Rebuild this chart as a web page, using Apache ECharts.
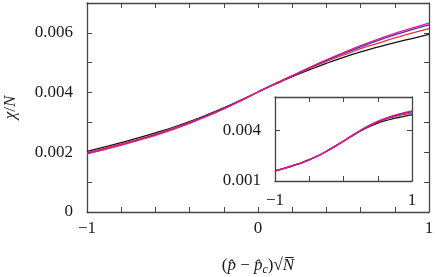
<!DOCTYPE html>
<html><head><meta charset="utf-8">
<script src="https://cdn.jsdelivr.net/npm/echarts@6/dist/echarts.min.js"></script>
<style>html,body{margin:0;padding:0;background:#fff}#c{width:435px;height:277px}</style>
</head><body><div id="c"></div>
<script>
var xs = [-1.0,-0.9,-0.8,-0.7,-0.6,-0.5,-0.4,-0.3,-0.2,-0.1,0.0,0.1,0.2,0.3,0.4,0.5,0.6,0.7,0.8,0.9,1.0];
// main panel
var blackMain   = [0.00203,0.00217,0.00232,0.00248,0.00265,0.00283,0.00303,0.00325,0.00349,0.00375,0.00402,0.00428,0.00453,0.00476,0.00498,0.00518,0.00536,0.00552,0.00567,0.00581,0.00595];
var redMain     = [0.00199,0.00213,0.00228,0.00244,0.00261,0.00280,0.00300,0.00323,0.00347,0.00374,0.00402,0.00429,0.00455,0.00480,0.00504,0.00526,0.00547,0.00565,0.00583,0.00599,0.00614];
var blueMain    = [0.00196,0.00210,0.00225,0.00241,0.00258,0.00277,0.00298,0.00321,0.00346,0.00373,0.00402,0.00430,0.00456,0.00483,0.00508,0.00531,0.00553,0.00574,0.00593,0.00611,0.00627];
var magentaMain = [0.00195,0.00209,0.00224,0.00240,0.00257,0.00276,0.00297,0.00320,0.00345,0.00373,0.00402,0.00430,0.00457,0.00484,0.00510,0.00534,0.00557,0.00578,0.00598,0.00616,0.00633];
// inset panel
var blackInset   = [0.00161,0.00172,0.00184,0.00197,0.00211,0.00227,0.00245,0.00265,0.00288,0.00312,0.00337,0.00362,0.00386,0.00408,0.00428,0.00445,0.00458,0.00469,0.00478,0.00486,0.00493];
var redInset     = [0.00160,0.00171,0.00183,0.00196,0.00210,0.00226,0.00245,0.00265,0.00288,0.00312,0.00337,0.00363,0.00388,0.00411,0.00432,0.00450,0.00465,0.00478,0.00489,0.00497,0.00504];
var blueInset    = [0.00159,0.00170,0.00182,0.00196,0.00210,0.00226,0.00245,0.00265,0.00288,0.00312,0.00338,0.00364,0.00389,0.00413,0.00435,0.00453,0.00469,0.00483,0.00494,0.00504,0.00513];
var magentaInset = [0.00159,0.00170,0.00182,0.00196,0.00210,0.00226,0.00245,0.00265,0.00288,0.00312,0.00338,0.00364,0.00390,0.00414,0.00436,0.00455,0.00472,0.00486,0.00498,0.00508,0.00518];
// ticks
var mainXTicks = [-1,-0.8,-0.6,-0.4,-0.2,0,0.2,0.4,0.6,0.8,1];
var mainXLabels = [-1,0,1];
var mainYTicks = [0,0.001,0.002,0.003,0.004,0.005,0.006,0.007];
var mainYLabels = [0,0.002,0.004,0.006];
var insetXTicks = [-1,-0.5,0,0.5,1];
var insetXLabels = [-1,1];
var insetYTicks = [0.004];
var insetYLabels = [0.001,0.004];

var FONT = '"Liberation Serif", "DejaVu Serif", serif';
var FS = 17;
var axisCol = '#444';
var txtCol = '#1a1a1a';
function fmt(v){
  if (Math.abs(v) < 1e-12) return '0';
  var s = (Math.round(v*1e6)/1e6).toString();
  if (Math.abs(v) >= 0.5) s = String(Math.round(v));
  return s.replace('-', '\u2212');
}
function pairs(ys){ return xs.map(function(x,i){return [x, ys[i]];}); }

function xAxisDef(gi, pos, ticks, labels, show, min, max, margin){
  return {
    type:'value', gridIndex:gi, position:pos, min:min, max:max,
    axisLine:{show:true, onZero:false, lineStyle:{color:axisCol, width:1.3}},
    axisTick:{show:true, inside:true, length:5, customValues:ticks, lineStyle:{color:axisCol, width:1}},
    axisLabel:{show:show, customValues:labels, formatter:fmt, margin:margin, color:txtCol, fontFamily:FONT, fontSize:FS},
    splitLine:{show:false}
  };
}
function yAxisDef(gi, pos, ticks, labels, show, min, max){
  return {
    type:'value', gridIndex:gi, position:pos, min:min, max:max,
    axisLine:{show:true, onZero:false, lineStyle:{color:axisCol, width:1.3}},
    axisTick:{show:true, inside:true, length:5, customValues:ticks, lineStyle:{color:axisCol, width:1}},
    axisLabel:{show:show, customValues:labels, formatter:fmt, margin:14, color:txtCol, fontFamily:FONT, fontSize:FS},
    splitLine:{show:false}
  };
}

var colors = ['#111111','#f03030','#3535c0','#e8178c'];
function lineSeries(xi, yi, data, c){
  return {type:'line', xAxisIndex:xi, yAxisIndex:yi, data:pairs(data), showSymbol:false, smooth:true,
    lineStyle:{color:c, width:1.3}, silent:true, animation:false, z:3};
}

var xMain0 = xAxisDef(0,'bottom',mainXTicks,mainXLabels,true,-1,1,8);
xMain0.name = '{p|(}{i|p\u0302}{p| \u2212 }{i|p\u0302}{s|c}{p|)\u221A}{i|N\u0305}';
xMain0.nameLocation = 'middle';
xMain0.nameGap = 44;
xMain0.nameTextStyle = {fontFamily:FONT, fontSize:FS, color:txtCol,
  rich:{p:{fontFamily:FONT,fontSize:FS,color:txtCol}, i:{fontFamily:FONT,fontSize:FS,fontStyle:'italic',color:txtCol},
        s:{fontFamily:FONT,fontSize:12,fontStyle:'italic',color:txtCol,padding:[8,0,0,0]}}};
var yMain0 = yAxisDef(0,'left',mainYTicks,mainYLabels,true,0,0.007);
yMain0.name = '{g|\u03C7}{p|/}{i|N}';
yMain0.nameLocation = 'middle';
yMain0.nameGap = 68;
yMain0.nameTextStyle = {fontFamily:FONT, fontSize:FS, color:txtCol,
  rich:{p:{fontFamily:FONT,fontSize:FS,color:txtCol}, g:{fontFamily:FONT,fontSize:FS,fontStyle:'italic',color:txtCol}, i:{fontFamily:FONT,fontSize:FS,fontStyle:'italic',color:txtCol}}};

var option = {
  animation:false,
  backgroundColor:'#fff',
  grid:[
    {left:87, right:6, top:3, bottom:65, containLabel:false, outerBoundsMode:'none'},
    {left:275, top:97, width:137, height:84, containLabel:false, outerBoundsMode:'none', show:true, backgroundColor:'#fff', borderWidth:0, z:5}
  ],
  xAxis:[
    xMain0,
    xAxisDef(0,'top',mainXTicks,[],false,-1,1,8),
    (function(){var a=xAxisDef(1,'bottom',insetXTicks,insetXLabels,true,-1,1,11); a.z=6; return a;})(),
    (function(){var a=xAxisDef(1,'top',insetXTicks,[],false,-1,1,8); a.z=6; return a;})()
  ],
  yAxis:[
    yMain0,
    yAxisDef(0,'right',mainYTicks,[],false,0,0.007),
    (function(){var a=yAxisDef(1,'left',insetYTicks,insetYLabels,true,0.001,0.006); a.z=6; return a;})(),
    (function(){var a=yAxisDef(1,'right',insetYTicks,[],false,0.001,0.006); a.z=6; return a;})()
  ],
  series:[
    lineSeries(0,0,blackMain,colors[0]),
    lineSeries(0,0,redMain,colors[1]),
    lineSeries(0,0,blueMain,colors[2]),
    lineSeries(0,0,magentaMain,colors[3]),
    (function(){var s=lineSeries(2,2,blackInset,colors[0]); s.z=7; return s;})(),
    (function(){var s=lineSeries(2,2,redInset,colors[1]); s.z=7; return s;})(),
    (function(){var s=lineSeries(2,2,blueInset,colors[2]); s.z=7; return s;})(),
    (function(){var s=lineSeries(2,2,magentaInset,colors[3]); s.z=7; return s;})()
  ]
};
var chart = echarts.init(document.getElementById('c'), null, {renderer:'canvas'});
chart.setOption(option);
</script></body></html>
